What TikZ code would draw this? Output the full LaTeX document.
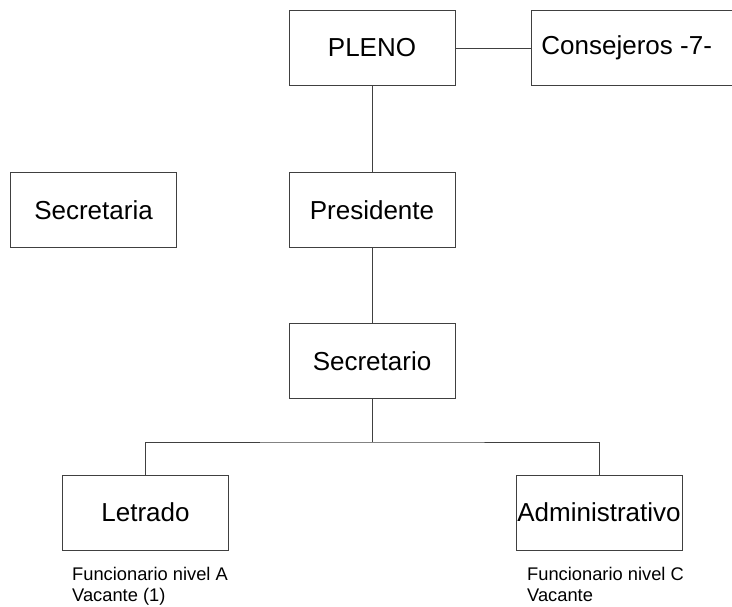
\documentclass[tikz,border=0pt]{standalone}
\usepackage{fontspec}
\setmainfont{Liberation Sans}
\begin{document}
\begin{tikzpicture}[x=1pt,y=-1pt,
  orgbox/.style={draw=black!75,line width=0.9pt,minimum width=166pt,minimum height=75pt,inner sep=0pt,font=\fontsize{26}{29}\selectfont},
  conn/.style={draw=black!75,line width=0.9pt},
  note/.style={anchor=base west,inner sep=0pt,font=\fontsize{18.3}{21}\selectfont}]
\useasboundingbox (0,0) rectangle (732,607);
\clip (0,0) rectangle (732,607);
\node[orgbox] (pleno) at (372,48) {PLENO};
\node[orgbox,minimum width=214pt,anchor=west] (cons) at (531,48) {\makebox[194pt][l]{Consejeros -7-}};
\node[orgbox] (secretaria) at (93.5,210) {Secretaria};
\node[orgbox] (pres) at (372,210) {Presidente};
\node[orgbox] (secr) at (372,361) {Secretario};
\node[orgbox] (letr) at (145.5,512.5) {Letrado};
\node[orgbox] (adm) at (599,512.5) {Administrativo};
\coordinate (bus) at (372,442);
\draw[conn] (pleno.east) -- (cons.west);
\draw[conn] (pleno.south) -- (pres.north);
\draw[conn] (pres.south) -- (secr.north);
\draw[conn] (secr.south) -- (bus);
\draw[conn] (letr.north) |- (bus) -| (adm.north);
\node[note] (na1) at (72,580) {Funcionario nivel A};
\node[note] (na2) at (72,601) {Vacante (1)};
\node[note] (nc1) at (527,580) {Funcionario nivel C};
\node[note] (nc2) at (527,601) {Vacante};
\end{tikzpicture}
\end{document}
